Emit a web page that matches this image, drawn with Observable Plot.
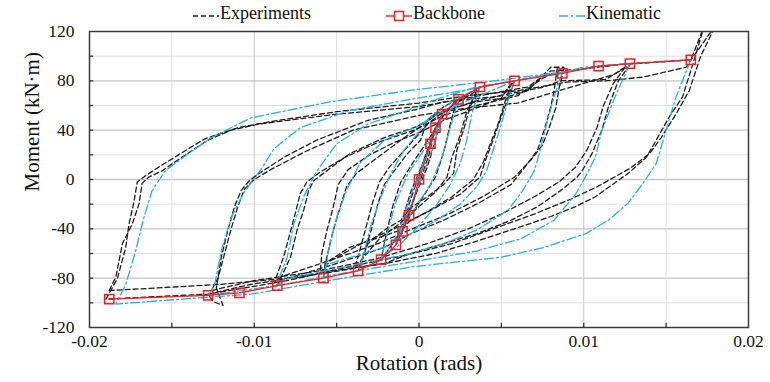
<!DOCTYPE html>
<html>
<head>
<meta charset="utf-8">
<script src="https://cdn.jsdelivr.net/npm/d3@7"></script>
<script src="https://cdn.jsdelivr.net/npm/@observablehq/plot@0.6"></script>
<style>
  html, body { margin: 0; padding: 0; background: white; }
  #wrap { width: 770px; height: 382px; position: relative; overflow: hidden; background: white; font-family: 'Liberation Serif', 'Times New Roman', serif; }
  #legend { position: relative; width: 770px; height: 24px; }
  .item { position: absolute; top: 0; height: 24px; }
  .item svg { position: absolute; top: 8px; }
  .item span { position: absolute; top: 4px; font-size: 18px; line-height: 18px; color: #111; white-space: nowrap; }
  #chart svg { overflow: visible; display: block; }
</style>
</head>
<body>
<div id="wrap">
  <div id="legend"></div>
  <div id="chart"></div>
</div>
<script>
// ---------- axes ----------
const xDomain = [-0.02, 0.02];
const yDomain = [-120, 120];
const xLabelTicks = [-0.02, -0.01, 0, 0.01, 0.02];
const xGridMajor = [-0.01, 0, 0.01];
const xGridMinor = [-0.015, -0.005, 0.005, 0.015];
const xTickMarks = [-0.015, -0.01, -0.005, 0, 0.005, 0.01, 0.015];
const yLabelTicks = [-120, -80, -40, 0, 40, 80, 120];
const yGridMajor = [-80, -40, 0, 40, 80];
const yGridMinor = [-100, -60, -20, 20, 60, 100];
const yTickMarks = [-100, -80, -60, -40, -20, 0, 20, 40, 60, 80, 100];
const xTitle = "Rotation (rads)";
const yTitle = "Moment (kN·m)";

// ---------- backbone ----------
const backboneRot = [-0.0188, -0.0128, -0.0109, -0.0086, -0.0058, -0.0037, -0.0023, -0.0014, -0.0010, -0.0006, 0, 0.0007, 0.0010, 0.0014, 0.0024, 0.0037, 0.0058, 0.0087, 0.0109, 0.0128, 0.0165];
const backboneMom = [-97, -94, -92, -86, -80, -74, -65, -53, -42, -29, 0, 29, 42, 53, 65, 75, 80, 86, 92, 94, 97];

// ---------- kinematic model loops ----------
const kin1 = [[0.0165,97],[0.0156,67],[0.0150,40],[0.0144,13],[0.0136,-3],[0.0127,-19],[0.0115,-33],[0.0101,-44],[0.0076,-55],[0.0050,-63],[0.0015,-68],[-0.0005,-71],[-0.0042,-79],[-0.0102,-93],[-0.0134,-96],[-0.0184,-101],[-0.0178,-85],[-0.0172,-58],[-0.0167,-31],[-0.0162,-9],[-0.0154,7],[-0.0140,21],[-0.0126,34],[-0.0102,50],[-0.0054,63],[-0.0001,73],[0.0040,79],[0.0086,87],[0.0100,91],[0.0127,94],[0.0165,97]];
const kin2 = [[0.0128,94],[0.0119,67],[0.0111,40],[0.0107,18],[0.0101,2],[0.0095,-12],[0.0082,-33],[0.0062,-48],[0.0035,-58],[-0.0005,-67],[-0.0042,-75],[-0.0082,-85],[-0.0102,-89],[-0.0128,-94],[-0.0124,-85],[-0.0120,-58],[-0.0114,-31],[-0.0106,-10],[-0.0096,8],[-0.0088,25],[-0.0072,42],[-0.0042,56],[-0.0001,66],[0.0035,74],[0.0058,80],[0.0087,87],[0.0109,92],[0.0128,94]];
const kin3 = [[0.0087,87],[0.0082,67],[0.0078,48],[0.0074,26],[0.0070,7],[0.0063,-9],[0.0054,-25],[0.0035,-41],[0.0015,-52],[-0.0005,-60],[-0.0042,-70],[-0.0082,-81],[-0.0087,-87],[-0.0080,-63],[-0.0076,-36],[-0.0070,-14],[-0.0062,7],[-0.0050,29],[-0.0031,45],[-0.0001,59],[0.0015,67],[0.0035,75],[0.0058,80],[0.0087,87]];
const kin4 = [[0.0058,80],[0.0054,64],[0.0050,45],[0.0045,24],[0.0041,7],[0.0035,-6],[0.0025,-20],[0.0011,-33],[-0.0005,-44],[-0.0021,-55],[-0.0056,-69],[-0.0058,-80],[-0.0054,-52],[-0.0050,-31],[-0.0044,-9],[-0.0036,13],[-0.0021,32],[-0.0001,43],[0.0011,53],[0.0035,67],[0.0058,80]];
const kin5 = [[0.0037,75],[0.0032,53],[0.0029,32],[0.0025,13],[0.0019,-4],[0.0011,-20],[0.0001,-36],[-0.0011,-52],[-0.0025,-66],[-0.0037,-74],[-0.0034,-63],[-0.0029,-36],[-0.0023,-14],[-0.0017,5],[-0.0009,24],[-0.0001,37],[0.0007,51],[0.0021,64],[0.0037,75]];
const kin6 = [[0.0024,65],[0.0019,42],[0.0014,18],[0.0007,-4],[-0.0003,-24],[-0.0014,-47],[-0.0023,-65],[-0.0019,-42],[-0.0014,-18],[-0.0007,4],[0.0003,24],[0.0014,47],[0.0024,65]];
const kin7 = [[0.0014,53],[0.0009,28],[0.0003,6],[-0.0004,-18],[-0.0010,-38],[-0.0014,-53],[-0.0009,-28],[-0.0003,-6],[0.0004,18],[0.0010,38],[0.0014,53]];

// ---------- experimental loops ----------
const exp1 = [[-0.0188,-90],[-0.0184,-79],[-0.0180,-52],[-0.0174,-36],[-0.0170,-20],[-0.0168,-3],[-0.0164,2],[-0.0156,7],[-0.0144,18],[-0.0128,32],[-0.0114,40],[-0.0097,45],[-0.0050,53],[-0.0001,59],[0.0021,64],[0.0045,70],[0.0066,75],[0.0080,88],[0.0095,89],[0.0121,93],[0.0165,97],[0.0173,124],[0.0167,97],[0.0160,67],[0.0152,51],[0.0144,32],[0.0138,18],[0.0127,5],[0.0107,-14],[0.0095,-22],[0.0080,-30],[0.0058,-40],[0.0035,-50],[0.0010,-60],[-0.0020,-68],[-0.0042,-72],[-0.0080,-80],[-0.0120,-85],[-0.0160,-88],[-0.0188,-90]];
const exp2 = [[-0.0190,-97],[-0.0183,-80],[-0.0178,-55],[-0.0176,-36],[-0.0173,-18],[-0.0171,-2],[-0.0166,3],[-0.0158,10],[-0.0146,20],[-0.0130,33],[-0.0110,42],[-0.0090,47],[-0.0050,55],[0.0000,62],[0.0030,68],[0.0060,72],[0.0090,79],[0.0113,80],[0.0136,83],[0.0162,91],[0.0180,125],[0.0171,100],[0.0164,72],[0.0156,53],[0.0147,34],[0.0140,21],[0.0128,9],[0.0108,-6],[0.0092,-16],[0.0070,-28],[0.0045,-40],[0.0020,-52],[-0.0010,-62],[-0.0040,-70],[-0.0080,-82],[-0.0128,-93],[-0.0160,-95],[-0.0190,-97]];
const exp3 = [[0.0128,93],[0.0121,80],[0.0115,59],[0.0111,40],[0.0105,21],[0.0099,7],[0.0096,2],[0.0086,-9],[0.0072,-22],[0.0056,-33],[0.0035,-44],[0.0015,-52],[-0.0005,-60],[-0.0021,-68],[-0.0062,-77],[-0.0102,-85],[-0.0128,-93],[-0.0125,-99],[-0.0119,-102],[-0.0123,-88],[-0.0120,-63],[-0.0116,-41],[-0.0112,-22],[-0.0108,-9],[-0.0103,-1],[-0.0097,5],[-0.0082,18],[-0.0062,32],[-0.0031,48],[-0.0001,57],[0.0015,63],[0.0045,67],[0.0076,75],[0.0086,80],[0.0113,81],[0.0122,88],[0.0128,93]];
const exp4 = [[0.0125,91],[0.0118,78],[0.0112,60],[0.0108,42],[0.0102,24],[0.0095,10],[0.0085,-2],[0.0070,-14],[0.0050,-28],[0.0030,-40],[0.0005,-52],[-0.0025,-64],[-0.0060,-74],[-0.0100,-82],[-0.0126,-90],[-0.0122,-80],[-0.0118,-60],[-0.0114,-40],[-0.0110,-22],[-0.0106,-8],[-0.0100,0],[-0.0090,8],[-0.0070,22],[-0.0040,40],[0.0000,52],[0.0030,58],[0.0060,62],[0.0085,72],[0.0100,78],[0.0118,85],[0.0125,91]];
const exp5 = [[0.0084,91],[0.0082,72],[0.0080,59],[0.0076,40],[0.0072,24],[0.0066,13],[0.0056,-4],[0.0035,-20],[0.0015,-33],[-0.0005,-44],[-0.0021,-55],[-0.0052,-69],[-0.0082,-81],[-0.0086,-86],[-0.0078,-63],[-0.0074,-41],[-0.0070,-25],[-0.0067,-9],[-0.0064,-1],[-0.0056,7],[-0.0042,21],[-0.0021,34],[-0.0001,43],[0.0015,56],[0.0035,63],[0.0051,66],[0.0066,72],[0.0080,91],[0.0088,91]];
const exp6 = [[0.0088,90],[0.0085,74],[0.0083,58],[0.0079,42],[0.0075,28],[0.0068,16],[0.0058,2],[0.0040,-13],[0.0018,-28],[-0.0004,-40],[-0.0025,-52],[-0.0055,-66],[-0.0084,-79],[-0.0088,-84],[-0.0082,-62],[-0.0078,-42],[-0.0075,-27],[-0.0072,-11],[-0.0068,-2],[-0.0060,6],[-0.0045,18],[-0.0025,30],[-0.0003,40],[0.0015,52],[0.0035,60],[0.0060,68],[0.0075,82],[0.0088,90]];
const exp7 = [[0.0058,80],[0.0054,66],[0.0050,51],[0.0045,32],[0.0041,18],[0.0037,2],[0.0025,-12],[0.0007,-25],[-0.0005,-33],[-0.0011,-41],[-0.0042,-55],[-0.0057,-68],[-0.0058,-79],[-0.0056,-63],[-0.0052,-41],[-0.0048,-23],[-0.0044,-6],[-0.0038,5],[-0.0025,18],[-0.0011,32],[0.0000,42],[0.0011,53],[0.0035,64],[0.0050,68],[0.0058,80]];
const exp8 = [[0.0056,78],[0.0052,62],[0.0048,45],[0.0043,28],[0.0039,14],[0.0033,0],[0.0020,-14],[0.0004,-27],[-0.0012,-38],[-0.0035,-52],[-0.0054,-66],[-0.0060,-76],[-0.0059,-60],[-0.0056,-42],[-0.0052,-22],[-0.0049,-4],[-0.0043,8],[-0.0030,20],[-0.0015,30],[0.0000,38],[0.0015,48],[0.0035,58],[0.0050,66],[0.0056,78]];
const exp9 = [[0.0037,75],[0.0031,59],[0.0027,40],[0.0023,24],[0.0021,5],[0.0015,-4],[0.0005,-14],[-0.0005,-23],[-0.0011,-33],[-0.0021,-41],[-0.0031,-52],[-0.0036,-70],[-0.0037,-74],[-0.0034,-63],[-0.0029,-41],[-0.0025,-20],[-0.0021,-4],[-0.0015,7],[-0.0007,21],[0.0001,32],[0.0005,48],[0.0015,59],[0.0025,66],[0.0037,75]];
const exp10 = [[0.0035,72],[0.0029,55],[0.0025,36],[0.0020,18],[0.0017,2],[0.0010,-10],[0.0000,-22],[-0.0012,-36],[-0.0024,-48],[-0.0033,-62],[-0.0039,-72],[-0.0036,-58],[-0.0032,-38],[-0.0028,-18],[-0.0024,-2],[-0.0018,10],[-0.0010,22],[-0.0002,34],[0.0006,46],[0.0018,58],[0.0035,72]];
const exp11 = [[0.0023,65],[0.0019,45],[0.0015,22],[0.0010,2],[0.0002,-15],[-0.0008,-35],[-0.0016,-52],[-0.0023,-65],[-0.0020,-45],[-0.0016,-22],[-0.0011,-2],[-0.0003,15],[0.0007,35],[0.0015,52],[0.0023,65]];
const exp12 = [[0.0014,53],[0.0010,32],[0.0005,10],[-0.0002,-12],[-0.0009,-35],[-0.0014,-53],[-0.0010,-32],[-0.0005,-10],[0.0002,12],[0.0009,35],[0.0014,53]];
const exp13 = [[0.0010,42],[0.0006,20],[0.0001,0],[-0.0004,-20],[-0.0010,-42],[-0.0006,-20],[-0.0001,0],[0.0004,20],[0.0010,42]];

// ---------- legend labels & colours ----------
const seriesNames = ["Experiments", "Backbone", "Kinematic"];
const expColor = "#1c1c1c", backColor = "#ff1a1a", kinColor = "#1eb1ec";

// ---------- build tables ----------
const toRows = (loops, name) => loops.flatMap((pts, i) => pts.map(([rot, m]) => ({loop: name + i, rot, m})));
const expRows = toRows([exp1, exp2, exp3, exp4, exp5, exp6, exp7, exp8, exp9, exp10, exp11, exp12, exp13], "e");
const kinRows = toRows([kin1, kin2, kin3, kin4, kin5, kin6, kin7], "k");
const backRows = backboneRot.map((rot, i) => ({rot, m: backboneMom[i]}));

const fontFamily = "Liberation Serif";
const textColor = "#111";

const chart = Plot.plot({
  width: 770,
  height: 358,
  marginTop: 7,
  marginRight: 22,
  marginBottom: 55,
  marginLeft: 89,
  style: {fontFamily: "'Liberation Serif', serif", fontSize: "17.5px", color: textColor, background: "white", overflow: "visible"},
  x: {domain: xDomain, axis: null},
  y: {domain: yDomain, axis: null},
  marks: [
    Plot.ruleY(yGridMinor, {stroke: "#dedede", strokeWidth: 1}),
    Plot.ruleY(yGridMajor, {stroke: "#c6c6c6", strokeWidth: 1.4}),
    Plot.ruleX(xGridMinor, {stroke: "#dedede", strokeWidth: 1}),
    Plot.ruleX(xGridMajor, {stroke: "#c6c6c6", strokeWidth: 1}),
    Plot.ruleX(xTickMarks, {x: d => d, y1: yDomain[0], y2: yDomain[0] + 3.4, stroke: "#333", strokeWidth: 1.3}),
    Plot.ruleY(yTickMarks, {y: d => d, x1: xDomain[0], x2: xDomain[0] + 0.00026, stroke: "#333", strokeWidth: 1.3}),
    Plot.line(expRows, {x: "rot", y: "m", z: "loop", stroke: expColor, strokeWidth: 1.3, strokeDasharray: "5,3", clip: true}),
    Plot.line(kinRows, {x: "rot", y: "m", z: "loop", stroke: kinColor, strokeWidth: 1.3, strokeDasharray: "9,3,2,3", clip: true}),
    Plot.line(backRows, {x: "rot", y: "m", stroke: backColor, strokeWidth: 1.3}),
    Plot.dot(backRows, {x: "rot", y: "m", symbol: "square", r: 5.2, stroke: backColor, strokeWidth: 1.5, fill: "none"}),
    Plot.frame({stroke: "#3a3a3a", strokeWidth: 1.5}),
    // tick labels
    Plot.text(xLabelTicks, {x: d => d, text: d => String(d), frameAnchor: "bottom", dy: 19.5, fontSize: 17.5, fontFamily, fill: textColor}),
    Plot.text(yLabelTicks, {y: d => d, text: d => String(d), frameAnchor: "left", dx: -15, textAnchor: "end", fontSize: 17.5, fontFamily, fill: textColor}),
    // axis titles
    Plot.text([xTitle], {text: d => d, frameAnchor: "bottom", dy: 42, fontSize: 21, fontFamily, fill: textColor}),
    Plot.text([yTitle], {text: d => d, frameAnchor: "left", dx: -57, dy: 12, rotate: -90, fontSize: 21, fontFamily, fill: textColor})
  ]
});
document.getElementById("chart").appendChild(chart);

// ---------- legend ----------
const legendItems = [
  {name: seriesNames[0], color: expColor, dash: "5,3", marker: false, left: 193},
  {name: seriesNames[1], color: backColor, dash: null, marker: true, left: 386},
  {name: seriesNames[2], color: kinColor, dash: "9,3,2,3", marker: false, left: 559}
];
const legend = d3.select("#legend");
for (const it of legendItems) {
  const item = legend.append("div").attr("class", "item").style("left", it.left + "px");
  const s = item.append("svg").attr("width", 26).attr("height", 16);
  s.append("line").attr("x1", 0).attr("x2", 26).attr("y1", 8).attr("y2", 8)
    .attr("stroke", it.color).attr("stroke-width", 1.4).attr("stroke-dasharray", it.dash);
  if (it.marker) s.append("rect").attr("x", 8.5).attr("y", 3.5).attr("width", 9).attr("height", 9)
    .attr("fill", "white").attr("stroke", it.color).attr("stroke-width", 1.5);
  item.append("span").style("left", "27px").text(it.name);
}
</script>
</body>
</html>
